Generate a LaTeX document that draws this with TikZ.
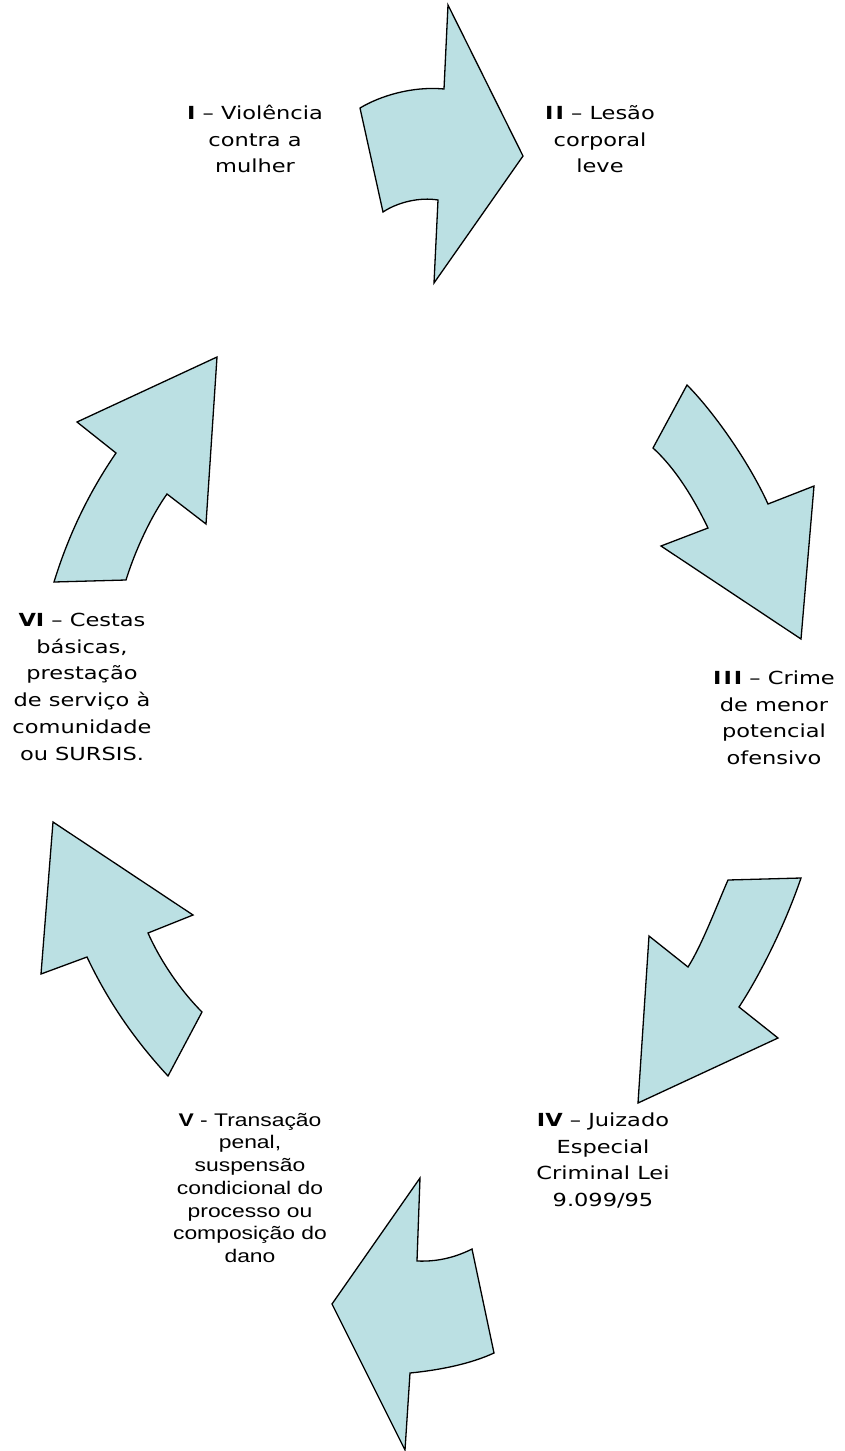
\documentclass[tikz,border=0pt]{standalone}
\usepackage{fontspec}
\newfontfamily\verdanalike[FakeStretch=1.25]{DejaVu Sans}
\newfontfamily\ariallike[FakeStretch=1.25]{Liberation Sans}
\definecolor{arrowfill}{HTML}{BBE0E3}
\tikzset{
  cyclearrow/.style={fill=arrowfill, draw=black, line width=1.3pt, line join=miter},
  lbl/.style={align=center, inner sep=0pt, anchor=north,
    font=\verdanalike\fontsize{18}{26.8}\selectfont},
  lblarial/.style={align=center, inner sep=0pt, anchor=north,
    font=\ariallike\fontsize{18.3}{22.7}\selectfont}
}
\newcommand{\topstrut}{\rule{0pt}{17pt}}
\begin{document}
\begin{tikzpicture}[x=1pt, y=-1pt]
\useasboundingbox (0,0) rectangle (845,1451);

% top arrow, pointing right
\draw[cyclearrow] (448,5) -- (523,156) -- (434,283) -- (438,200)
  .. controls (420,197) and (398,202) .. (383,212) -- (360,108)
  .. controls (380,96) and (412,86) .. (444,89) -- cycle;

% right arrow, pointing down
\draw[cyclearrow] (687,385) .. controls (712,410) and (748,460) .. (768,504)
  -- (814,486) -- (801,639) -- (661,546) -- (708,528)
  .. controls (693,497) and (675,468) .. (653,448) -- cycle;

% lower-right arrow, pointing down-left
\draw[cyclearrow] (728,880) -- (801,878)
  .. controls (785,925) and (760,975) .. (739,1007)
  -- (778,1038) -- (638,1103) -- (649,936) -- (688,967)
  .. controls (702,945) and (717,905) .. (728,880) -- cycle;

% bottom arrow, pointing left
\draw[cyclearrow] (405,1450) -- (332,1304) -- (420,1178) -- (417,1261)
  .. controls (440,1262) and (458,1256) .. (472,1249) -- (494,1353)
  .. controls (470,1364) and (440,1370) .. (410,1373) -- cycle;

% lower-left arrow, pointing up
\draw[cyclearrow] (53,822) -- (193,915) -- (148,933)
  .. controls (160,960) and (180,990) .. (202,1012) -- (168,1076)
  .. controls (130,1035) and (105,995) .. (87,957) -- (41,974) -- cycle;

% upper-left arrow, pointing up-right
\draw[cyclearrow] (217,357) -- (206,524) -- (167,494)
  .. controls (152,515) and (136,548) .. (126,580) -- (54,582)
  .. controls (70,530) and (92,488) .. (116,453) -- (77,422) -- cycle;

% stage labels
\node[lbl] (s1) at (255,102) {\topstrut\textbf{I} – Violência\\contra a\\mulher};
\node[lbl] (s2) at (600,102) {\topstrut\textbf{I\kern2pt I} – Lesão\\corporal\\leve};
\node[lbl] (s3) at (774,667) {\topstrut\textbf{I\kern2pt I\kern2pt I} – Crime\\de menor\\potencial\\ofensivo};
\node[lbl] (s4) at (603,1109) {\topstrut\textbf{IV} – Juizado\\Especial\\Criminal Lei\\9.099/95};
\node[lblarial] (s5) at (250,1109) {\topstrut\textbf{V} - Transação\\penal,\\suspensão\\condicional do\\processo ou\\composição do\\dano};
\node[lbl] (s6) at (82,609) {\topstrut\textbf{VI} – Cestas\\básicas,\\prestação\\de serviço à\\comunidade\\ou SURSIS.};
\end{tikzpicture}
\end{document}
